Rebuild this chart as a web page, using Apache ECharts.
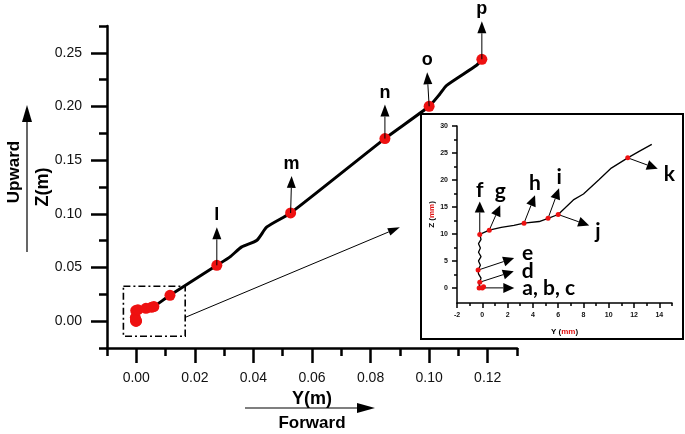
<!DOCTYPE html>
<html><head><meta charset="utf-8">
<script src="https://cdn.jsdelivr.net/npm/echarts@6/dist/echarts.min.js"></script>
<style>html,body{margin:0;padding:0;background:#fff}#c{width:685px;height:434px}</style>
</head><body><div id="c"></div>
<script>
// ---- Main chart data (metres) ----
const mainPathY = [0, -0.0002, -0.0003, -0.0002, 0.0006, 0.0033, 0.0045, 0.0052, 0.0060, 0.0115, 0.0275, 0.0320, 0.0360, 0.0412, 0.0446, 0.0527, 0.0849, 0.1000, 0.1036, 0.1060, 0.1162, 0.1180];
const mainPathZ = [0, 0.0010, 0.0033, 0.0099, 0.0107, 0.0120, 0.0123, 0.0129, 0.0136, 0.0241, 0.0520, 0.0599, 0.0692, 0.0754, 0.0878, 0.1008, 0.1701, 0.2002, 0.2114, 0.2197, 0.2384, 0.2440];
const mainDotY = [-0.00025, 0, 0.0001, -0.0002, -0.00033, -0.0002, 0.00055, 0.0033, 0.0052, 0.0060, 0.0115, 0.0275, 0.0527, 0.0849, 0.1000, 0.1180];
const mainDotZ = [0, 0, 0.0002, 0.00105, 0.0033, 0.0099, 0.0107, 0.0120, 0.0129, 0.0136, 0.0241, 0.0520, 0.1008, 0.1701, 0.2002, 0.2440];
const mainLabels = ['l', 'm', 'n', 'o', 'p'];
const mainLabelY = [0.0275, 0.0527, 0.0849, 0.1000, 0.1180];
const mainLabelZ = [0.0520, 0.1008, 0.1701, 0.2002, 0.2440];
const mainXTicks = [0, 0.02, 0.04, 0.06, 0.08, 0.10, 0.12];
const mainXMinorTicks = [-0.01, 0.01, 0.03, 0.05, 0.07, 0.09, 0.11, 0.13];
const mainYTicks = [0, 0.05, 0.10, 0.15, 0.20, 0.25];
const mainYMinorTicks = [-0.025, 0.025, 0.075, 0.125, 0.175, 0.225, 0.275];
const zoomBoxY = [-0.0044, 0.0167];
const zoomBoxZ = [-0.014, 0.0326];
const zoomArrowY = [0.0167, 0.0900];
const zoomArrowZ = [0.0035, 0.0875];

// ---- Inset data (millimetres) ----
const insetPathY = [0, -0.25, -0.2, -0.1, -0.3, -0.33, -0.15, -0.3, -0.1, -0.3, -0.15, -0.3, -0.1, -0.2, 0.55, 1.5, 2.5, 3.3, 4.5, 5.2, 6.0, 7.2, 8.0, 9.2, 10.2, 11.5, 12.4, 13.4];
const insetPathZ = [0, 0.5, 1.05, 1.8, 2.6, 3.3, 4.2, 5.0, 5.8, 6.6, 7.4, 8.2, 9.0, 9.9, 10.7, 11.2, 11.6, 12.0, 12.3, 12.9, 13.6, 16.3, 17.4, 20.0, 22.2, 24.1, 25.3, 26.6];
const insetDotY = [-0.25, 0, 0.1, -0.2, -0.33, -0.2, 0.55, 3.3, 5.2, 6.0, 11.5];
const insetDotZ = [0, 0, 0.2, 1.05, 3.3, 9.9, 10.7, 12.0, 12.9, 13.6, 24.1];
const insetLabels = ['a, b, c', 'd', 'e', 'f', 'g', 'h', 'i', 'j', 'k'];
const insetLabelY = [0, -0.2, -0.33, -0.2, 0.55, 3.3, 5.2, 6.0, 11.5];
const insetLabelZ = [0, 1.05, 3.3, 9.9, 10.7, 12.0, 12.9, 13.6, 24.1];
const insetXTicks = [-2, 0, 2, 4, 6, 8, 10, 12, 14];
const insetXMinorTicks = [-1, 1, 3, 5, 7, 9, 11, 13, 15];
const insetYTicks = [0, 5, 10, 15, 20, 25, 30];
const insetYMinorTicks = [2.5, 7.5, 12.5, 17.5, 22.5, 27.5];

// ---- styling: arrow offsets in px [dx, dy, labelDx, labelDy, align, vAlign] ----
const mainArrowStyle = [[0,-38,0,-3,'center','bottom'],[1,-37,0,-3,'center','bottom'],[0,-34,0,-3,'center','bottom'],[-2,-34,0,-3,'center','bottom'],[0,-38,0,-3,'center','bottom']];
const insetArrowStyle = [[32,0,8,0,'left','middle'],[34,-11,8,0,'left','middle'],[36,-12,8,-5,'left','middle'],[0,-33,0,-1,'center','bottom'],[11,-25,0,-3,'center','bottom'],[11,-28,0,-1,'center','bottom'],[11,-30,0,-1,'center','bottom'],[31,11,6,6,'left','middle'],[30,11,6,5,'left','middle']];

const zip = (a, b) => a.map((v, i) => [v, b[i]]);

function arrowRenderer(labels, styles, head, lineW, font) {
  return function (params, api) {
    const i = params.dataIndex;
    const p = api.coord([api.value(0), api.value(1)]);
    const s = styles[i];
    const tip = [p[0] + s[0], p[1] + s[1]];
    const len = Math.hypot(s[0], s[1]);
    const ux = s[0] / len, uy = s[1] / len;
    const b = [tip[0] - ux * head[0], tip[1] - uy * head[0]];
    const nx = -uy, ny = ux, hw = head[1] / 2;
    return {
      type: 'group', children: [
        { type: 'line', shape: { x1: p[0], y1: p[1], x2: b[0], y2: b[1] }, style: { stroke: '#000', lineWidth: lineW } },
        { type: 'polygon', shape: { points: [tip, [b[0] + nx * hw, b[1] + ny * hw], [b[0] - nx * hw, b[1] - ny * hw]] }, style: { fill: '#000' } },
        { type: 'text', x: tip[0] + s[2], y: tip[1] + s[3], style: { text: labels[i], font: font, fill: '#000', align: s[4], verticalAlign: s[5], textAlign: s[4], textVerticalAlign: s[5] } }
      ]
    };
  };
}

function axisBase(extra) {
  return Object.assign({
    type: 'value', splitLine: { show: false },
    axisLine: { show: true, onZero: false, lineStyle: { color: '#000', width: 2.5 } }
  }, extra);
}

const chart = echarts.init(document.getElementById('c'), null, { renderer: 'canvas' });
const mainLabelFont = { fontFamily: 'Liberation Sans, Arial', fontSize: 14, color: '#111' };
const insetLabelFont = { fontFamily: 'Liberation Sans, Arial', fontSize: 7, fontWeight: 'bold', color: '#111' };

chart.setOption({
  animation: false,
  backgroundColor: '#fff',
  grid: [
    { left: 107, top: 26, width: 410, height: 322 },
    { left: 457, top: 126, width: 215, height: 177, z: 11 }
  ],
  xAxis: [
    axisBase({ gridIndex: 0, min: -0.01, max: 0.13, position: 'bottom',
      axisTick: { customValues: mainXTicks, length: 15, lineStyle: { width: 2.5, color: '#000' } },
      axisLabel: Object.assign({ customValues: mainXTicks, margin: 23, formatter: v => v.toFixed(2) }, mainLabelFont),
      name: 'Y(m)', nameLocation: 'middle', nameGap: 40,
      nameTextStyle: { fontFamily: 'Liberation Sans, Arial', fontWeight: 'bold', fontSize: 18, color: '#000' } }),
    axisBase({ gridIndex: 0, min: -0.01, max: 0.13, position: 'bottom', axisLine: { show: false, onZero: false },
      axisTick: { customValues: mainXMinorTicks, length: 8, lineStyle: { width: 2.5, color: '#000' } },
      axisLabel: { show: false } }),
    axisBase({ gridIndex: 1, min: -2, max: 15, position: 'bottom', z: 11,
      axisLine: { show: true, onZero: false, lineStyle: { color: '#000', width: 1.5 } },
      axisTick: { customValues: insetXTicks, length: 5, lineStyle: { width: 1.5, color: '#000' } },
      axisLabel: Object.assign({ customValues: insetXTicks, margin: 9 }, insetLabelFont),
      name: 'Y ({r|mm})', nameLocation: 'middle', nameGap: 25,
      nameTextStyle: { fontFamily: 'Liberation Sans, Arial', fontWeight: 'bold', fontSize: 8, color: '#000',
        rich: { r: { color: '#e01010', fontSize: 8, fontWeight: 'bold', fontFamily: 'Liberation Sans, Arial' } } } }),
    axisBase({ gridIndex: 1, min: -2, max: 15, position: 'bottom', z: 11, axisLine: { show: false, onZero: false },
      axisTick: { customValues: insetXMinorTicks, length: 3, lineStyle: { width: 1.5, color: '#000' } },
      axisLabel: { show: false } })
  ],
  yAxis: [
    axisBase({ gridIndex: 0, min: -0.025, max: 0.275, position: 'left',
      axisTick: { customValues: mainYTicks, length: 16, lineStyle: { width: 2.5, color: '#000' } },
      axisLabel: Object.assign({ customValues: mainYTicks, margin: 25, formatter: v => v.toFixed(2) }, mainLabelFont),
      name: 'Z(m)', nameLocation: 'middle', nameGap: 55, nameRotate: 90, nameMoveOverlap: false,
      nameTextStyle: { fontFamily: 'Liberation Sans, Arial', fontWeight: 'bold', fontSize: 18, color: '#000' } }),
    axisBase({ gridIndex: 0, min: -0.025, max: 0.275, position: 'left', axisLine: { show: false, onZero: false },
      axisTick: { customValues: mainYMinorTicks, length: 8, lineStyle: { width: 2.5, color: '#000' } },
      axisLabel: { show: false } }),
    axisBase({ gridIndex: 1, min: -2.8, max: 30, position: 'left', z: 11,
      axisLine: { show: true, onZero: false, lineStyle: { color: '#000', width: 1.5 } },
      axisTick: { customValues: insetYTicks, length: 5, lineStyle: { width: 1.5, color: '#000' } },
      axisLabel: Object.assign({ customValues: insetYTicks, margin: 9 }, insetLabelFont),
      name: 'Z ({r|mm})', nameLocation: 'middle', nameGap: 21, nameRotate: 90,
      nameTextStyle: { fontFamily: 'Liberation Sans, Arial', fontWeight: 'bold', fontSize: 8, color: '#000',
        rich: { r: { color: '#e01010', fontSize: 8, fontWeight: 'bold', fontFamily: 'Liberation Sans, Arial' } } } }),
    axisBase({ gridIndex: 1, min: -2.8, max: 30, position: 'left', z: 11, axisLine: { show: false, onZero: false },
      axisTick: { customValues: insetYMinorTicks, length: 3, lineStyle: { width: 1.5, color: '#000' } },
      axisLabel: { show: false } })
  ],
  graphic: [
    { type: 'rect', z: 10, shape: { x: 421, y: 114, width: 262, height: 225 }, style: { fill: '#fff', stroke: '#000', lineWidth: 2 } },
    { type: 'text', z: 10, x: 14, y: 172, rotation: Math.PI / 2, style: { text: 'Upward', font: 'bold 17px "Liberation Sans", Arial', fill: '#000', align: 'center', verticalAlign: 'middle' } },
    { type: 'line', z: 10, shape: { x1: 27, y1: 252, x2: 27, y2: 120 }, style: { stroke: '#000', lineWidth: 1.2 } },
    { type: 'polygon', z: 10, shape: { points: [[27, 105], [22, 122], [32, 122]] }, style: { fill: '#000' } },
    { type: 'text', z: 10, x: 312, y: 423, style: { text: 'Forward', font: 'bold 17px "Liberation Sans", Arial', fill: '#000', align: 'center', verticalAlign: 'middle' } },
    { type: 'line', z: 10, shape: { x1: 245, y1: 408, x2: 358, y2: 408 }, style: { stroke: '#000', lineWidth: 1.2 } },
    { type: 'polygon', z: 10, shape: { points: [[375, 408], [357, 403], [357, 413]] }, style: { fill: '#000' } }
  ],
  series: [
    { type: 'line', xAxisIndex: 0, yAxisIndex: 0, data: zip(mainPathY, mainPathZ), symbol: 'none', smooth: 0.2,
      lineStyle: { color: '#000', width: 3 }, z: 2 },
    { type: 'scatter', xAxisIndex: 0, yAxisIndex: 0, data: zip(mainDotY, mainDotZ), symbolSize: 11,
      itemStyle: { color: '#ee1111', opacity: 1 }, z: 3 },
    { type: 'custom', xAxisIndex: 0, yAxisIndex: 0, z: 4, data: [[zoomBoxY[0], zoomBoxZ[0], zoomBoxY[1], zoomBoxZ[1]]],
      renderItem: function (params, api) {
        const a = api.coord([api.value(0), api.value(1)]);
        const b = api.coord([api.value(2), api.value(3)]);
        const s = api.coord([zoomArrowY[0], zoomArrowZ[0]]);
        const e = api.coord([zoomArrowY[1], zoomArrowZ[1]]);
        const len = Math.hypot(e[0] - s[0], e[1] - s[1]);
        const ux = (e[0] - s[0]) / len, uy = (e[1] - s[1]) / len;
        const bb = [e[0] - ux * 12, e[1] - uy * 12];
        return { type: 'group', children: [
          { type: 'rect', shape: { x: Math.min(a[0], b[0]), y: Math.min(a[1], b[1]), width: Math.abs(b[0] - a[0]), height: Math.abs(b[1] - a[1]) },
            style: { fill: 'none', stroke: '#000', lineWidth: 1.6, lineDash: [7, 3, 2, 3] } },
          { type: 'line', shape: { x1: s[0], y1: s[1], x2: bb[0], y2: bb[1] }, style: { stroke: '#000', lineWidth: 1 } },
          { type: 'polygon', shape: { points: [e, [bb[0] - uy * 4, bb[1] + ux * 4], [bb[0] + uy * 4, bb[1] - ux * 4]] }, style: { fill: '#000' } }
        ] };
      } },
    { type: 'custom', xAxisIndex: 0, yAxisIndex: 0, z: 4, data: zip(mainLabelY, mainLabelZ),
      renderItem: arrowRenderer(mainLabels, mainArrowStyle, [12, 9], 1, 'bold 18px "Liberation Sans", Arial') },
    { type: 'line', xAxisIndex: 2, yAxisIndex: 2, data: zip(insetPathY, insetPathZ), symbol: 'none',
      lineStyle: { color: '#000', width: 1.3 }, z: 12 },
    { type: 'scatter', xAxisIndex: 2, yAxisIndex: 2, data: zip(insetDotY, insetDotZ), symbolSize: 5,
      itemStyle: { color: '#ee1111', opacity: 1 }, z: 13 },
    { type: 'custom', xAxisIndex: 2, yAxisIndex: 2, z: 13, data: zip(insetLabelY, insetLabelZ),
      renderItem: arrowRenderer(insetLabels, insetArrowStyle, [11, 10], 1, 'bold 21px Lato, "Open Sans", sans-serif') }
  ]
});
</script>
</body></html>
